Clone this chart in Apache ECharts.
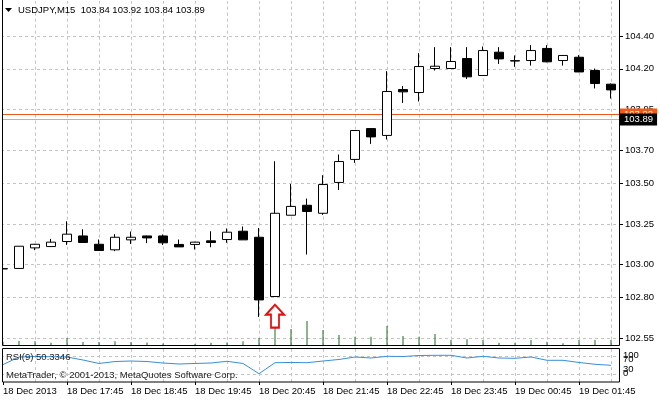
<!DOCTYPE html>
<html><head><meta charset="utf-8">
<script src="https://cdn.jsdelivr.net/npm/echarts@6/dist/echarts.min.js"></script>
<style>html,body{margin:0;padding:0;background:#fff}#c{width:660px;height:400px}</style>
</head><body><div id="c"></div>
<script>
const categories = ['18 Dec 16:45','18 Dec 17:00','18 Dec 17:15','18 Dec 17:30','18 Dec 17:45','18 Dec 18:00','18 Dec 18:15','18 Dec 18:30','18 Dec 18:45','18 Dec 19:00','18 Dec 19:15','18 Dec 19:30','18 Dec 19:45','18 Dec 20:00','18 Dec 20:15','18 Dec 20:30','18 Dec 20:45','18 Dec 21:00','18 Dec 21:15','18 Dec 21:30','18 Dec 21:45','18 Dec 22:00','18 Dec 22:15','18 Dec 22:30','18 Dec 22:45','18 Dec 23:00','18 Dec 23:15','18 Dec 23:30','18 Dec 23:45','19 Dec 00:00','19 Dec 00:15','19 Dec 00:30','19 Dec 00:45','19 Dec 01:00','19 Dec 01:15','19 Dec 01:30','19 Dec 01:45','19 Dec 02:00','19 Dec 02:15'];
const tickLabels = ['18 Dec 2013','18 Dec 17:45','18 Dec 18:45','18 Dec 19:45','18 Dec 20:45','18 Dec 21:45','18 Dec 22:45','18 Dec 23:45','19 Dec 00:45','19 Dec 01:45'];
const opens  = [102.974,102.977,103.103,103.111,103.142,103.176,103.125,103.091,103.152,103.176,103.176,103.124,103.124,103.146,103.154,103.205,103.168,102.805,103.303,103.364,103.315,103.504,103.645,103.834,103.792,104.073,104.055,104.202,104.202,104.263,104.159,104.302,104.250,104.251,104.325,104.251,104.271,104.190,104.106];
const highs  = [102.990,103.113,103.127,103.158,103.266,103.217,103.154,103.187,103.203,103.178,103.185,103.154,103.140,103.205,103.222,103.234,103.225,103.634,103.495,103.405,103.548,103.675,103.822,103.834,104.186,104.094,104.296,104.333,104.333,104.333,104.337,104.333,104.282,104.345,104.345,104.282,104.284,104.202,104.110];
const lows   = [102.956,102.977,103.089,103.111,103.121,103.134,103.087,103.083,103.127,103.132,103.121,103.109,103.093,103.107,103.134,103.152,102.680,102.805,103.303,103.062,103.305,103.458,103.624,103.740,103.767,103.991,104.000,104.190,104.202,104.138,104.159,104.230,104.212,104.220,104.240,104.220,104.180,104.080,104.018];
const closes = [102.976,103.113,103.125,103.138,103.187,103.136,103.087,103.168,103.168,103.164,103.134,103.109,103.138,103.136,103.199,103.152,102.784,103.315,103.357,103.326,103.491,103.632,103.822,103.783,104.061,104.059,104.214,104.216,104.245,104.151,104.312,104.261,104.248,104.312,104.243,104.282,104.181,104.110,104.071];
const volumes = [80,94,88,60,154,74,74,88,74,64,44,14,34,60,64,88,154,380,334,494,314,214,180,180,394,194,180,234,114,128,114,60,60,114,80,48,114,114,114];
const rsi = [52.0,69.4,70.5,70.0,69.4,62.5,54.5,59.0,60.2,59.0,55.6,53.3,54.5,55.6,59.5,54.5,31.0,56.3,56.8,56.3,60.2,63.7,69.4,67.1,71.0,70.5,72.8,73.3,73.3,67.1,71.0,67.1,66.4,69.4,61.8,61.8,56.8,52.6,50.3346];
const priceTicks = [104.40,104.20,103.95,103.70,103.50,103.25,103.00,102.80,102.55];
const askPrice = 103.92;
const bidPrice = 103.89;
const rsiLevels = [70,30];
const rsiScaleLabels = ['100','70','30','0'];
const titleText = 'USDJPY,M15  103.84 103.92 103.84 103.89';
const rsiText = 'RSI(9) 50.3346';
const copyrightText = 'MetaTrader, \u00a9 2001-2013, MetaQuotes Software Corp.';
const arrowIndex = 17;
const arrowPrice = 102.684;

const FONT = 'Liberation Sans';
const FS = 9.5;
const candleData = categories.map((c, i) => [opens[i], closes[i], lows[i], highs[i]]);
const evenCats = categories.filter((c, i) => i % 2 === 0 && i > 0);
const dash = {type: [3, 3], color: '#c4c4c4', width: 1};

const chart = echarts.init(document.getElementById('c'), null, {renderer: 'canvas'});
chart.setOption({
  animation: false,
  backgroundColor: '#fff',
  textStyle: {fontFamily: FONT},
  grid: [
    {left: -5, right: 41, top: 1, height: 344.7, outerBoundsMode: 'none', containLabel: false},
    {left: -5, right: 41, top: 349, height: 33, outerBoundsMode: 'none', containLabel: false}
  ],
  xAxis: [
    {type: 'category', gridIndex: 0, data: categories, boundaryGap: true,
     axisLine: {show: false}, axisTick: {show: false}, axisLabel: {show: false}, splitLine: {show: false}},
    {type: 'category', gridIndex: 1, data: categories, boundaryGap: true,
     axisLine: {show: false},
     axisTick: {show: true, alignWithLabel: true, interval: (i) => i % 4 === 0, length: 3, lineStyle: {color: '#000'}},
     axisLabel: {interval: (i) => i % 4 === 0, formatter: (v, i) => tickLabels[i / 4], align: 'left',
                 margin: 4, fontSize: FS, color: '#000', fontFamily: FONT},
     splitLine: {show: false}}
  ],
  yAxis: [
    {type: 'value', gridIndex: 0, position: 'right', min: 102.5035, max: 104.6157,
     axisLine: {show: false}, splitLine: {show: false},
     axisTick: {show: true, customValues: priceTicks, length: 4, lineStyle: {color: '#000'}},
     axisLabel: {customValues: priceTicks, formatter: (v) => v.toFixed(2), margin: 6, fontSize: FS, color: '#000', fontFamily: FONT}},
    {type: 'value', gridIndex: 0, show: false, min: 0, max: 6894},
    {type: 'value', gridIndex: 1, show: false, min: 11.9, max: 87.8}
  ],
  series: [
    {type: 'bar', name: 'Volume', xAxisIndex: 0, yAxisIndex: 1, data: volumes, barWidth: 1,
     itemStyle: {color: '#1f6e1f'}, silent: true, z: 1},
    {type: 'candlestick', name: 'USDJPY', xAxisIndex: 0, yAxisIndex: 0, data: candleData, barWidth: 9, z: 3,
     itemStyle: {color: '#fff', color0: '#000', borderColor: '#000', borderColor0: '#000', borderWidth: 1},
     markLine: {
       silent: true, symbol: 'none', z: 1, animation: false,
       data: [
         ...priceTicks.map(p => ({yAxis: p, lineStyle: dash, label: {show: false}})),
         ...evenCats.map(c => ({xAxis: c, lineStyle: dash, label: {show: false}})),
         {yAxis: askPrice, lineStyle: {type: 'solid', color: '#e8571c', width: 1},
          label: {show: true, position: 'end', distance: 1, formatter: askPrice.toFixed(2), color: '#fff',
                  backgroundColor: '#f05a14', padding: [1, 4, 1, 4], fontSize: FS, fontFamily: FONT}},
         {yAxis: bidPrice, lineStyle: {type: 'solid', color: '#b4b4b4', width: 1},
          label: {show: true, position: 'end', distance: 1, formatter: bidPrice.toFixed(2), color: '#fff',
                  backgroundColor: '#000', padding: [1, 4, 1, 4], fontSize: FS, fontFamily: FONT}}
       ]
     },
     markPoint: {
       silent: true, animation: false,
       data: [{coord: [categories[arrowIndex], arrowPrice],
               symbol: 'path://M9 0 L18 10 L13 10 L13 23 L5 23 L5 10 L0 10 Z', symbolSize: [18, 23],
               itemStyle: {color: '#fff', borderColor: '#e41010', borderWidth: 2}, label: {show: false}}]
     }},
    {type: 'line', name: 'RSI(9)', xAxisIndex: 1, yAxisIndex: 2, data: rsi, showSymbol: false, symbol: 'none',
     lineStyle: {color: '#3b8ed8', width: 1}, z: 3,
     markLine: {
       silent: true, symbol: 'none', z: 1, animation: false,
       data: [
         ...rsiLevels.map(v => ({yAxis: v, lineStyle: dash, label: {show: false}})),
         ...evenCats.map(c => ({xAxis: c, lineStyle: dash, label: {show: false}}))
       ]
     }}
  ],
  graphic: [
    {type: 'rect', z: 100, silent: true, shape: {x: 0, y: 0, width: 2.5, height: 383}, style: {fill: '#fff'}},
    {type: 'rect', z: 101, silent: true, shape: {x: 2.5, y: -1, width: 617, height: 346.5}, style: {fill: null, stroke: '#000', lineWidth: 1}},
    {type: 'rect', z: 101, silent: true, shape: {x: 2.5, y: 348.5, width: 617, height: 33.5}, style: {fill: null, stroke: '#000', lineWidth: 1}},
    {type: 'polygon', z: 102, silent: true, shape: {points: [[5, 8], [12, 8], [8.5, 12]]}, style: {fill: '#000'}},
    {type: 'text', z: 102, silent: true, x: 18, y: 10, style: {text: titleText, font: FS + 'px ' + FONT, fill: '#000', verticalAlign: 'middle'}},
    {type: 'text', z: 102, silent: true, x: 6, y: 357, style: {text: rsiText, font: FS + 'px ' + FONT, fill: '#222', verticalAlign: 'middle'}},
    {type: 'text', z: 102, silent: true, x: 6, y: 375.5, style: {text: copyrightText, font: FS + 'px ' + FONT, fill: '#222', verticalAlign: 'middle'}},
    {type: 'text', z: 102, silent: true, x: 623, y: 355.5, style: {text: rsiScaleLabels[0], font: FS + 'px ' + FONT, fill: '#000', verticalAlign: 'middle'}},
    {type: 'text', z: 102, silent: true, x: 623, y: 359.5, style: {text: rsiScaleLabels[1], font: FS + 'px ' + FONT, fill: '#000', verticalAlign: 'middle'}},
    {type: 'text', z: 102, silent: true, x: 623, y: 369, style: {text: rsiScaleLabels[2], font: FS + 'px ' + FONT, fill: '#000', verticalAlign: 'middle'}},
    {type: 'text', z: 102, silent: true, x: 623, y: 373.5, style: {text: rsiScaleLabels[3], font: FS + 'px ' + FONT, fill: '#000', verticalAlign: 'middle'}}
  ]
});
</script></body></html>
